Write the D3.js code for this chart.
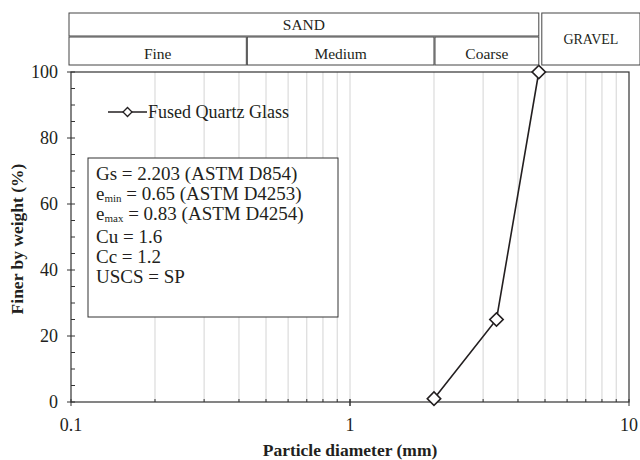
<!DOCTYPE html>
<html>
<head>
<meta charset="utf-8">
<script src="https://cdn.jsdelivr.net/npm/d3@7"></script>
<style>
	body { margin: 0; background: #fff; }
	text { font-family: "Liberation Serif", "Times New Roman", serif; fill: #231f20; }
</style>
</head>
<body>
<svg id="viz"></svg>
<script>
// data
const diameters = [2.0, 3.35, 4.75];   // mm
const finer = [1, 25, 100];            // %
const seriesName = "Fused Quartz Glass";

const yTicks = [0, 20, 40, 60, 80, 100];
const xTicks = [0.1, 1, 10];

// soil classes (USCS limits in mm)
const sandParts = ["Fine", "Medium", "Coarse"];
const sandLimits = [0.1, 0.425, 2, 4.75];

const propLines = [
	["Gs = 2.203 (ASTM D854)", null],
	["e", "min", " = 0.65 (ASTM D4253)"],
	["e", "max", "  = 0.83 (ASTM D4254)"],
	["Cu = 1.6", null],
	["Cc = 1.2", null],
	["USCS = SP", null]
];

const width = 640;
const height = 460;
const margin = { top: 72, right: 11, bottom: 58, left: 71 };
const plotWidth = width - margin.left - margin.right;
const plotHeight = height - margin.top - margin.bottom;

const svg = d3.select("svg#viz")
	.attr("width", width)
	.attr("height", height);

const x = d3.scaleLog().domain([0.1, 10]).range([0, plotWidth]);
const y = d3.scaleLinear().domain([0, 100]).range([plotHeight, 0]);

const plot = svg.append("g").attr("transform", translate(margin.left, margin.top));

// vertical grid on every log step
const gridVals = [];
for (let dec of [0.1, 1]) {
	for (let k = 2; k <= 9; k++) gridVals.push(dec * k);
}
gridVals.push(1);
plot.append("g").selectAll("line")
	.data(gridVals)
	.join("line")
	.attr("x1", d => x(d)).attr("x2", d => x(d))
	.attr("y1", 0).attr("y2", plotHeight)
	.attr("stroke", "#d4d4d4")
	.attr("stroke-width", 1);

// frame
plot.append("rect")
	.attr("width", plotWidth).attr("height", plotHeight)
	.attr("fill", "none")
	.attr("stroke", "#333")
	.attr("stroke-width", 1.2);

// y axis: minor ticks inside every 5
plot.append("g").selectAll("line")
	.data(d3.range(0, 101, 5))
	.join("line")
	.attr("x1", d => d % 20 == 0 ? -4 : 0).attr("x2", 4)
	.attr("y1", d => y(d)).attr("y2", d => y(d))
	.attr("stroke", "#333");

plot.append("g").selectAll("text")
	.data(yTicks)
	.join("text")
	.attr("x", -13).attr("y", d => y(d) + 6)
	.attr("text-anchor", "end")
	.style("font-size", "18px")
	.text(d => d);

// x axis
plot.append("g").selectAll("line")
	.data(xTicks.concat(gridVals))
	.join("line")
	.attr("x1", d => x(d)).attr("x2", d => x(d))
	.attr("y1", plotHeight - 3)
	.attr("y2", d => xTicks.includes(d) ? plotHeight + 4 : plotHeight)
	.attr("stroke", "#333");

plot.append("g").selectAll("text")
	.data(xTicks)
	.join("text")
	.attr("x", d => x(d)).attr("y", plotHeight + 29)
	.attr("text-anchor", "middle")
	.style("font-size", "18px")
	.text(d => d);

// axis titles
svg.append("text")
	.attr("transform", translate(23, margin.top + plotHeight / 2 + 2) + " rotate(-90)")
	.attr("text-anchor", "middle")
	.style("font-size", "17.5px")
	.style("font-weight", "bold")
	.text("Finer by weight (%)");

svg.append("text")
	.attr("x", margin.left + plotWidth / 2).attr("y", 456)
	.attr("text-anchor", "middle")
	.style("font-size", "17.5px")
	.style("font-weight", "bold")
	.text("Particle diameter (mm)");

// classification header
const head = svg.append("g");
const sandL = margin.left - 2, sandR = margin.left + x(sandLimits[3]);
head.append("rect")
	.attr("x", sandL).attr("y", 13).attr("width", sandR - sandL).attr("height", 23)
	.attr("fill", "none").attr("stroke", "#444");
head.append("text")
	.attr("x", (sandL + sandR) / 2).attr("y", 30)
	.attr("text-anchor", "middle").style("font-size", "15.5px")
	.text("SAND");

sandParts.forEach((p, i) => {
	let l = i == 0 ? sandL : margin.left + x(sandLimits[i]) + 1;
	let r = margin.left + x(sandLimits[i + 1]);
	head.append("rect")
		.attr("x", l).attr("y", 37).attr("width", r - l).attr("height", 28)
		.attr("fill", "none").attr("stroke", "#444");
	head.append("text")
		.attr("x", (l + r) / 2).attr("y", 59)
		.attr("text-anchor", "middle").style("font-size", "15.5px")
		.text(p);
});

const gravL = sandR + 3;
head.append("rect")
	.attr("x", gravL).attr("y", 13).attr("width", 640 - gravL).attr("height", 52)
	.attr("fill", "none").attr("stroke", "#444");
head.append("text")
	.attr("x", (gravL + 640) / 2).attr("y", 44)
	.attr("text-anchor", "middle").style("font-size", "14px")
	.text("GRAVEL");

// properties box
const box = svg.append("g").attr("transform", translate(88, 158));
box.append("rect")
	.attr("width", 250).attr("height", 159)
	.attr("fill", "#fff").attr("stroke", "#333");
propLines.forEach((ln, i) => {
	// a little extra room below the subscript lines
	let yy = 22 + i * 20 + (i > 2 ? 2.5 : 0);
	let t = box.append("text")
		.attr("x", 8).attr("y", yy)
		.style("font-size", "19px");
	if (ln[1] == null) {
		t.text(ln[0]);
	} else {
		t.append("tspan").text(ln[0]);
		t.append("tspan").attr("dy", 2).style("font-size", "11px").text(ln[1]);
		t.append("tspan").attr("dy", -2).text(ln[2]);
	}
});

// the curve
const pts = diameters.map((d, i) => [d, finer[i]]);
const diamond = d3.symbol().type(d3.symbolSquare).size(90);

plot.append("path")
	.datum(pts)
	.attr("fill", "none")
	.attr("stroke", "#231f20")
	.attr("stroke-width", 1.6)
	.attr("d", d3.line().x(d => x(d[0])).y(d => y(d[1])));

plot.append("g").selectAll("path")
	.data(pts)
	.join("path")
	.attr("transform", d => translate(x(d[0]), y(d[1])) + " rotate(45)")
	.attr("d", diamond)
	.attr("fill", "#fff")
	.attr("stroke", "#231f20")
	.attr("stroke-width", 1.6);

// legend
const legend = svg.append("g").attr("transform", translate(108, 112));
legend.append("line")
	.attr("x1", 0).attr("x2", 39)
	.attr("stroke", "#231f20").attr("stroke-width", 1.6);
legend.append("path")
	.attr("transform", translate(19.5, 0) + " rotate(45)")
	.attr("d", d3.symbol().type(d3.symbolSquare).size(40))
	.attr("fill", "#fff").attr("stroke", "#231f20").attr("stroke-width", 1.3);
legend.append("text")
	.attr("x", 40).attr("y", 6)
	.style("font-size", "18px")
	.text(seriesName);

function translate(a, b) {
	return "translate(" + a + "," + b + ")";
}
</script>
</body>
</html>
